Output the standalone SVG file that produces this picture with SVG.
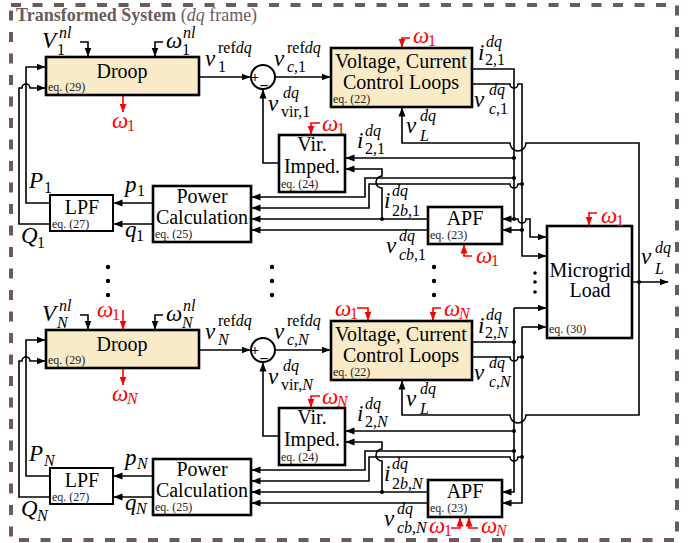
<svg xmlns="http://www.w3.org/2000/svg" width="690" height="543" viewBox="0 0 690 543" font-family="'Liberation Serif', 'Times New Roman', serif">
<style>
.bx{stroke:#000;stroke-width:2.6;fill:#fff}
.bg{fill:#faebc8}
.ln{stroke:#000;stroke-width:1.6;fill:none}
.rl{stroke:#f00;stroke-width:1.6;fill:none}
.a{marker-end:url(#ah)}
.ar{marker-end:url(#ahr)}
.t,.eq,.m,.s,.ttl,.pm{font-family:'Liberation Serif','Times New Roman',serif}
.t{font-size:20px;text-anchor:middle}
.eq{font-size:12px;fill:#222}
.m{font-size:23px;font-style:italic}
.s{font-size:16px}
.i{font-style:italic}
.red{fill:#f00}
.ttl{font-size:18px;fill:#6e5a5a}
.frame{fill:none;stroke:#6e5a5a;stroke-width:4;stroke-dasharray:10 11.5}
</style>
<defs>
<marker id="ah" markerWidth="9" markerHeight="8" refX="8.5" refY="4" orient="auto" markerUnits="userSpaceOnUse"><path d="M0,0.5 L9,4 L0,7.5z" fill="#000"/></marker>
<marker id="ahr" markerWidth="9" markerHeight="8" refX="8.5" refY="4" orient="auto" markerUnits="userSpaceOnUse"><path d="M0,0.5 L9,4 L0,7.5z" fill="#f00"/></marker>
</defs>

<g id="frame">
<rect class="frame" x="11" y="5" width="666" height="535"/>
<text class="ttl" x="16" y="21"><tspan font-weight="bold">Transformed System</tspan> (<tspan class="i">dq</tspan> frame)</text>
</g>

<g id="connectors">
<g id="conn-row1">
<path class="ln a" d="M80,42 H88 V56"/>
<path class="ln a" d="M163,42 H155 V56"/>
<path class="ln a" d="M50,203 H26 V67 H45"/>
<path class="ln a" d="M50,224 H19 V88 H22 A4,4 0 0 1 30,88 H45"/>
<path class="ln a" d="M199,77 H250"/>
<path class="ln a" d="M275,77 H330"/>
<path class="ln a" d="M279,163 H263 V90"/>
<path class="ln a" d="M153,203 H114"/>
<path class="ln a" d="M153,224 H114"/>
<path class="ln a" d="M514,158 H346"/>
<path class="ln a" d="M514,178 H365 V197 H252"/>
<path class="ln a" d="M522,184 H518 A4,4 0 0 1 510,184 H369 V208 H252"/>
<path class="ln a" d="M428,219 H252"/>
<path class="ln a" d="M428,230 H252"/>
<path class="ln a" d="M382,219 V188 A6,6 0 0 1 382,176 V169 H346"/>
<circle cx="514" cy="158" r="2"/><circle cx="514" cy="178" r="2"/><circle cx="522" cy="184" r="2"/><circle cx="382" cy="219" r="2"/>
<path class="rl ar" d="M123,95 V112"/>
<path class="rl ar" d="M410,38 H402 V47"/>
<path class="rl ar" d="M320,123 H311 V134"/>
</g>
<g id="conn-rowN" transform="translate(0,273)">
<path class="ln a" d="M80,42 H88 V56"/>
<path class="ln a" d="M163,42 H155 V56"/>
<path class="ln a" d="M50,203 H26 V67 H45"/>
<path class="ln a" d="M50,224 H19 V88 H22 A4,4 0 0 1 30,88 H45"/>
<path class="ln a" d="M199,77 H250"/>
<path class="ln a" d="M275,77 H330"/>
<path class="ln a" d="M279,163 H263 V90"/>
<path class="ln a" d="M153,203 H114"/>
<path class="ln a" d="M153,224 H114"/>
<path class="ln a" d="M514,158 H346"/>
<path class="ln a" d="M514,178 H365 V197 H252"/>
<path class="ln a" d="M522,184 H518 A4,4 0 0 1 510,184 H369 V208 H252"/>
<path class="ln a" d="M428,219 H252"/>
<path class="ln a" d="M428,230 H252"/>
<path class="ln a" d="M382,219 V188 A6,6 0 0 1 382,176 V169 H346"/>
<circle cx="514" cy="158" r="2"/><circle cx="514" cy="178" r="2"/><circle cx="522" cy="184" r="2"/><circle cx="382" cy="219" r="2"/>
<path class="rl ar" d="M123,37 V56"/>
<path class="rl ar" d="M123,95 V112"/>
<path class="rl ar" d="M357,35 H368 V47"/>
<path class="rl ar" d="M441,35 H433 V47"/>
<path class="rl ar" d="M320,123 H311 V134"/>
<path class="rl ar" d="M451,255 H460 V245"/>
<path class="rl ar" d="M478,255 H469 V245"/>
</g>
<g id="conn-right">
<path class="ln a" d="M472,69 H514 V219 H503"/>
<path class="ln a" d="M514,219 H518 A4,4 0 0 0 526,219 H530 V237 H546"/>
<path class="ln a" d="M472,84 H510 A4,4 0 0 0 518,84 H522 V256 H546"/>
<path class="ln a" d="M522,230 H503"/>
<circle cx="514" cy="219" r="2"/><circle cx="522" cy="230" r="2"/>
<path class="ln" d="M472,342 H514"/>
<path class="ln" d="M472,357 H510 A4,4 0 0 0 518,357 H522"/>
<path class="ln a" d="M514,308 H546"/>
<path class="ln a" d="M514,308 V492 H503"/>
<path class="ln a" d="M522,327 H546"/>
<path class="ln a" d="M522,327 V503 H503"/>
<circle cx="514" cy="342" r="2"/><circle cx="522" cy="357" r="2"/>
<path class="ln a" d="M639,282 V143 H526 A8,8 0 0 1 510,143 H402 V108"/>
<path class="ln a" d="M639,282 V415 H526 A8,8 0 0 1 510,415 H402 V381"/>
<path class="ln a" d="M632,282 H668"/>
<circle cx="639" cy="282" r="2"/>
<path class="rl ar" d="M472,256 H464 V245"/>
<path class="rl ar" d="M597,213 H589 V225"/>
</g>
</g>

<g id="row1">
<g id="droop-1"><rect class="bx bg" x="46" y="57" width="153" height="38"/><text class="t" x="122" y="78">Droop</text><text class="eq" x="48" y="91">eq. (29)</text></g>
<g id="sum-1"><circle class="bx" cx="263" cy="77" r="12" style="stroke-width:2"/><text class="pm" x="255" y="82" font-size="14" font-weight="bold" text-anchor="middle">+</text><text class="pm" x="264" y="91" font-size="16" font-weight="bold" text-anchor="middle">−</text></g>
<g id="vccl-1"><rect class="bx bg" x="331" y="48" width="141" height="59"/><text class="t" x="401" y="68">Voltage, Current</text><text class="t" x="401" y="89">Control Loops</text><text class="eq" x="333" y="103">eq. (22)</text></g>
<g id="virimp-1"><rect class="bx" x="279" y="135" width="66" height="57"/><text class="t" x="312" y="151">Vir.</text><text class="t" x="312" y="173">Imped.</text><text class="eq" x="281" y="188">eq. (24)</text></g>
<g id="lpf-1"><rect class="bx" x="50" y="195" width="63" height="36" style="stroke-width:2"/><text class="t" x="82" y="214">LPF</text><text class="eq" x="52" y="228">eq. (27)</text></g>
<g id="pcalc-1"><rect class="bx" x="153" y="186" width="98" height="56"/><text class="t" x="202" y="203">Power</text><text class="t" x="202" y="224">Calculation</text><text class="eq" x="155" y="238">eq. (25)</text></g>
<g id="apf-1"><rect class="bx" x="428" y="207" width="74" height="37"/><text class="t" x="465" y="225">APF</text><text class="eq" x="430" y="239">eq. (23)</text></g>
<g id="labels-1">
<text class="m" x="42" y="48">V</text><text class="s i" x="59" y="38">nl</text><text class="s" x="57" y="55">1</text>
<text class="m" x="166" y="48">ω</text><text class="s i" x="183" y="38">nl</text><text class="s" x="182" y="55">1</text>
<text class="m" x="205" y="66">v</text><text class="s" x="218" y="53">ref<tspan class="i">dq</tspan></text><text class="s" x="218" y="72">1</text>
<text class="m" x="274" y="66">v</text><text class="s" x="287" y="53">ref<tspan class="i">dq</tspan></text><text class="s" x="287" y="72"><tspan class="i">c</tspan>,1</text>
<text class="m" x="268" y="111">v</text><text class="s i" x="283" y="98">dq</text><text class="s" x="281" y="117">vir,1</text>
<text class="m" x="478" y="60">i</text><text class="s i" x="486" y="47">dq</text><text class="s" x="485" y="65">2,1</text>
<text class="m" x="474" y="107">v</text><text class="s i" x="489" y="95">dq</text><text class="s" x="489" y="114"><tspan class="i">c</tspan>,1</text>
<text class="m" x="406" y="133">v</text><text class="s i" x="420" y="121">dq</text><text class="s i" x="420" y="141">L</text>
<text class="m" x="357" y="148">i</text><text class="s i" x="365" y="136">dq</text><text class="s" x="365" y="154">2,1</text>
<text class="m" x="384" y="208">i</text><text class="s i" x="392" y="196">dq</text><text class="s" x="392" y="216">2<tspan class="i">b</tspan>,1</text>
<text class="m" x="386" y="253">v</text><text class="s i" x="399" y="241">dq</text><text class="s" x="399" y="260"><tspan class="i">cb</tspan>,1</text>
<text class="m" x="29" y="188">P</text><text class="s" x="44" y="193">1</text>
<text class="m" x="21" y="243">Q</text><text class="s" x="37" y="248">1</text>
<text class="m" x="125" y="192">p</text><text class="s" x="137" y="196">1</text>
<text class="m" x="125" y="237">q</text><text class="s" x="136" y="241">1</text>
<g class="red"><text class="m" x="112" y="128">ω</text><text class="s" x="127" y="131">1</text>
<text class="m" x="413" y="43">ω</text><text class="s" x="428" y="46">1</text>
<text class="m" x="322" y="131">ω</text><text class="s" x="337" y="134">1</text>
<text class="m" x="476" y="263">ω</text><text class="s" x="491" y="266">1</text></g>
</g>
</g>

<g id="dots">
<circle cx="108" cy="267" r="2.2"/><circle cx="108" cy="281" r="2.2"/><circle cx="108" cy="295" r="2.2"/>
<circle cx="272" cy="267" r="2.2"/><circle cx="272" cy="281" r="2.2"/><circle cx="272" cy="295" r="2.2"/>
<circle cx="434" cy="267" r="2.2"/><circle cx="434" cy="281" r="2.2"/><circle cx="434" cy="295" r="2.2"/>
<circle cx="535" cy="273" r="1.8"/><circle cx="535" cy="282" r="1.8"/><circle cx="535" cy="292" r="1.8"/>
</g>

<g id="rowN" transform="translate(0,273)">
<g id="droop-N"><rect class="bx bg" x="46" y="57" width="153" height="38"/><text class="t" x="122" y="78">Droop</text><text class="eq" x="48" y="91">eq. (29)</text></g>
<g id="sum-N"><circle class="bx" cx="263" cy="77" r="12" style="stroke-width:2"/><text class="pm" x="255" y="82" font-size="14" font-weight="bold" text-anchor="middle">+</text><text class="pm" x="264" y="91" font-size="16" font-weight="bold" text-anchor="middle">−</text></g>
<g id="vccl-N"><rect class="bx bg" x="331" y="48" width="141" height="59"/><text class="t" x="401" y="68">Voltage, Current</text><text class="t" x="401" y="89">Control Loops</text><text class="eq" x="333" y="103">eq. (22)</text></g>
<g id="virimp-N"><rect class="bx" x="279" y="135" width="66" height="57"/><text class="t" x="312" y="151">Vir.</text><text class="t" x="312" y="173">Imped.</text><text class="eq" x="281" y="188">eq. (24)</text></g>
<g id="lpf-N"><rect class="bx" x="50" y="195" width="63" height="36" style="stroke-width:2"/><text class="t" x="82" y="214">LPF</text><text class="eq" x="52" y="228">eq. (27)</text></g>
<g id="pcalc-N"><rect class="bx" x="153" y="186" width="98" height="56"/><text class="t" x="202" y="203">Power</text><text class="t" x="202" y="224">Calculation</text><text class="eq" x="155" y="238">eq. (25)</text></g>
<g id="apf-N"><rect class="bx" x="428" y="207" width="74" height="37"/><text class="t" x="465" y="225">APF</text><text class="eq" x="430" y="239">eq. (23)</text></g>
<g id="labels-N">
<text class="m" x="42" y="48">V</text><text class="s i" x="59" y="38">nl</text><text class="s i" x="57" y="55">N</text>
<text class="m" x="166" y="48">ω</text><text class="s i" x="183" y="38">nl</text><text class="s i" x="182" y="55">N</text>
<text class="m" x="205" y="66">v</text><text class="s" x="218" y="53">ref<tspan class="i">dq</tspan></text><text class="s i" x="218" y="72">N</text>
<text class="m" x="274" y="66">v</text><text class="s" x="287" y="53">ref<tspan class="i">dq</tspan></text><text class="s i" x="287" y="72">c,N</text>
<text class="m" x="268" y="111">v</text><text class="s i" x="283" y="98">dq</text><text class="s" x="281" y="117">vir,<tspan class="i">N</tspan></text>
<text class="m" x="478" y="60">i</text><text class="s i" x="486" y="47">dq</text><text class="s" x="485" y="65">2,<tspan class="i">N</tspan></text>
<text class="m" x="474" y="107">v</text><text class="s i" x="489" y="95">dq</text><text class="s i" x="489" y="114">c,N</text>
<text class="m" x="406" y="133">v</text><text class="s i" x="420" y="121">dq</text><text class="s i" x="420" y="141">L</text>
<text class="m" x="357" y="148">i</text><text class="s i" x="365" y="136">dq</text><text class="s" x="365" y="154">2,<tspan class="i">N</tspan></text>
<text class="m" x="384" y="208">i</text><text class="s i" x="392" y="196">dq</text><text class="s" x="392" y="216">2<tspan class="i">b</tspan>,<tspan class="i">N</tspan></text>
<text class="m" x="384" y="253">v</text><text class="s i" x="397" y="241">dq</text><text class="s i" x="397" y="260" font-size="14">cb,N</text>
<text class="m" x="29" y="188">P</text><text class="s i" x="44" y="193">N</text>
<text class="m" x="21" y="243">Q</text><text class="s i" x="37" y="248">N</text>
<text class="m" x="125" y="192">p</text><text class="s i" x="137" y="196">N</text>
<text class="m" x="125" y="237">q</text><text class="s i" x="136" y="241">N</text>
<g class="red"><text class="m" x="97" y="44">ω</text><text class="s" x="112" y="47">1</text>
<text class="m" x="112" y="128">ω</text><text class="s i" x="127" y="131">N</text>
<text class="m" x="335" y="43">ω</text><text class="s" x="350" y="46">1</text>
<text class="m" x="444" y="43">ω</text><text class="s i" x="459" y="46">N</text>
<text class="m" x="322" y="131">ω</text><text class="s i" x="337" y="134">N</text>
<text class="m" x="429" y="260">ω</text><text class="s" x="444" y="263">1</text>
<text class="m" x="481" y="260">ω</text><text class="s i" x="496" y="263">N</text></g>
</g>
</g>

<g id="microgrid">
<rect class="bx" x="547" y="226" width="85" height="112"/>
<text class="t" x="590" y="277">Microgrid</text><text class="t" x="590" y="297">Load</text><text class="eq" x="549" y="333">eq. (30)</text>
<text class="m" x="641" y="264">v</text><text class="s i" x="655" y="253">dq</text><text class="s i" x="655" y="274">L</text>
<g class="red"><text class="m" x="601" y="223">ω</text><text class="s" x="616" y="226">1</text></g>
</g>
</svg>
